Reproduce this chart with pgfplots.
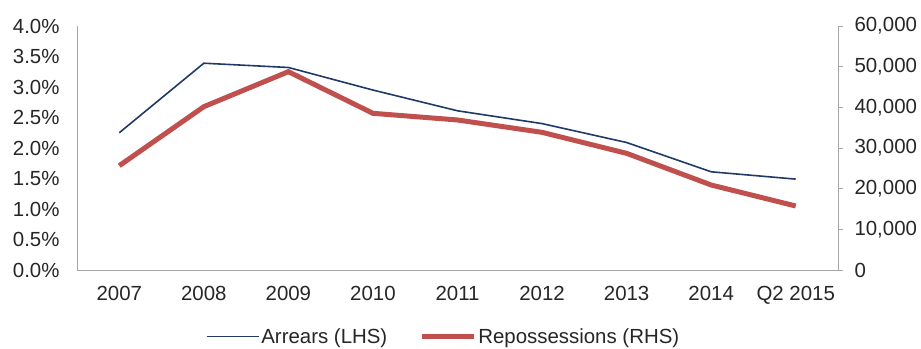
\documentclass[border=0pt]{standalone}
\usepackage{pgfplots}
\pgfplotsset{compat=1.18}
\usepackage{fontspec}
\setmainfont{Liberation Sans}
\definecolor{arrears}{HTML}{1F3A66}
\definecolor{reposs}{HTML}{C0504D}
\definecolor{axisgray}{HTML}{A6A6A6}
\definecolor{labelgray}{HTML}{262626}

\pgfplotsset{
  common/.style={
    scale only axis,
    width=761bp, height=244bp,
    xmin=-0.5, xmax=8.5,
    ymin=0,
    font=\fontsize{20.5}{24}\selectfont,
    every axis label/.style={text=labelgray},
    tick label style={text=labelgray},
    axis line style={axisgray, line width=0.8pt},
    /pgf/number format/assume math mode=true,
    clip=false,
  }
}

\begin{document}
\begin{tikzpicture}
\path[use as bounding box] (-77bp,-79bp) rectangle (844bp,270bp);

% Arrears rate, left-hand scale
\begin{axis}[
  common,
  axis x line*=bottom,
  axis y line*=left,
  ymax=4,
  ytick={0,0.5,...,4},
  yticklabel={\pgfmathprintnumber[fixed,fixed zerofill,precision=1]{\tick}\%},
  y tick label style={xshift=-14bp},
  major tick length=0pt,
  xtick={0,...,8},
  xticklabels={2007,2008,2009,2010,2011,2012,2013,2014,Q2 2015},
  x tick label style={yshift=-13bp},
]
\addplot[arrears, line width=1.6bp] coordinates {
  (0,2.25) (1,3.39) (2,3.32) (3,2.95) (4,2.61)
  (5,2.40) (6,2.09) (7,1.61) (8,1.49)
};
\end{axis}

% Repossessions, right-hand scale
\begin{axis}[
  common,
  axis x line=none,
  axis y line*=right,
  ymax=60000,
  ytick={0,10000,...,60000},
  scaled y ticks=false,
  /pgf/number format/fixed,
  /pgf/number format/1000 sep={,},
  y tick label style={xshift=8bp},
  ytick style={axisgray, line width=0.8pt},
  major tick length=5bp,
  tick align=outside,
  legend style={
    at={(0.4816,-0.272)}, anchor=center,
    draw=none, fill=none,
    font=\fontsize{20.5}{24}\selectfont,
    text=labelgray,
    /tikz/every even column/.append style={column sep=30bp},
    inner sep=0pt,
    nodes={inner xsep=2bp},
  },
  legend columns=2,
  legend image code/.code={\draw[#1] (0bp,0bp) -- (52bp,0bp);},
]
\addlegendimage{arrears, line width=1.6bp}
\addlegendentry{Arrears (LHS)}
\addplot[reposs, line width=5bp] coordinates {
  (0,25650) (1,40160) (2,48770) (3,38530) (4,36890)
  (5,33850) (6,28690) (7,20900) (8,15740)
};
\addlegendentry{Repossessions (RHS)}
\end{axis}
\end{tikzpicture}
\end{document}
